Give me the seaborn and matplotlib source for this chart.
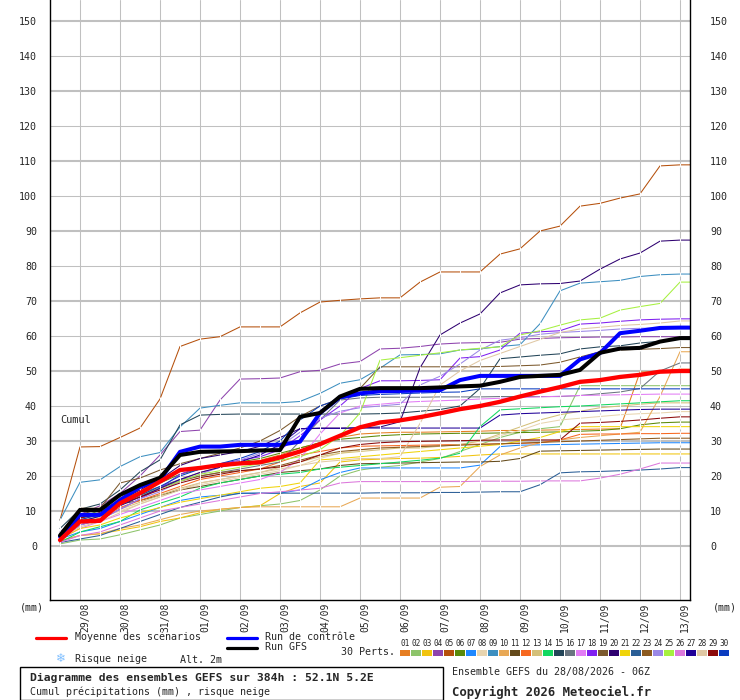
import matplotlib
matplotlib.use('Agg')
import matplotlib.pyplot as plt
from matplotlib.lines import Line2D
from matplotlib.patches import Rectangle
import seaborn as sns
import pandas as pd

# forecast hours of the points (run of 28/08 06Z)
hours = [6, 18, 30, 42, 54, 66, 78, 90, 102, 114, 126, 138, 150, 162, 174, 186, 198,
         210, 222, 234, 246, 258, 270, 282, 294, 306, 318, 330, 342, 354, 366, 378, 384]
day_hours = [18, 42, 66, 90, 114, 138, 162, 186, 210, 234, 258, 282, 306, 330, 354, 378]
date_labels = ['29/08', '30/08', '31/08', '01/09', '02/09', '03/09', '04/09', '05/09',
               '06/09', '07/09', '08/09', '09/09', '10/09', '11/09', '12/09', '13/09']
y_ticks = [0, 10, 20, 30, 40, 50, 60, 70, 80, 90, 100, 110, 120, 130, 140, 150]

mean_run = [1.7, 7.0, 7.2, 12.2, 15.1, 18.4, 21.7, 22.3, 23.1, 23.6, 23.9, 25.3, 27.0, 29.1, 31.5, 33.9, 35.3,
            35.9, 36.8, 37.9, 39.1, 40.0, 41.2, 42.7, 44.1, 45.4, 46.9, 47.4, 48.3, 48.9, 49.8, 50.0, 50.0]
control_run = [2.7, 8.9, 8.9, 13.1, 16.9, 18.9, 26.9, 28.4, 28.4, 28.9, 28.9, 28.9, 29.8, 38.0, 42.5, 43.6, 44.2,
               44.3, 44.4, 44.5, 47.4, 48.6, 48.6, 48.6, 48.6, 48.6, 53.3, 55.1, 60.8, 61.5, 62.3, 62.4, 62.4]
gfs_run = [3.0, 10.3, 10.3, 14.6, 17.4, 19.5, 26.0, 26.9, 27.0, 27.1, 27.3, 27.4, 36.9, 38.0, 42.7, 44.9, 45.1,
           45.1, 45.1, 45.3, 45.6, 45.8, 46.9, 48.3, 48.6, 48.9, 50.3, 55.2, 56.4, 56.6, 58.4, 59.4, 59.4]

p01 = [3.0, 7.5, 9.0, 12.0, 14.0, 16.5, 19.0, 21.0, 22.5, 23.5, 24.5, 26.0, 28.0, 29.5, 31.0, 32.0, 32.3,
       32.5, 32.5, 32.6, 32.7, 32.8, 33.0, 33.0, 33.1, 33.2, 33.3, 33.4, 33.5, 49.7, 49.8, 50.5, 50.5]
p02 = [0.6, 1.7, 2.0, 3.2, 4.6, 6.0, 8.0, 9.0, 10.0, 11.0, 11.5, 12.0, 13.0, 16.0, 20.0, 21.7, 22.5,
       23.0, 24.0, 25.0, 27.0, 29.0, 31.0, 32.5, 33.5, 34.1, 45.8, 45.8, 45.8, 45.8, 45.8, 45.8, 45.8]
p03 = [1.5, 3.0, 3.5, 4.5, 5.5, 7.0, 8.0, 9.5, 10.5, 11.0, 11.5, 15.0, 17.0, 18.0, 24.0, 24.6, 24.8,
       25.0, 25.1, 25.3, 25.6, 26.0, 26.3, 26.3, 26.3, 26.3, 26.3, 26.3, 26.3, 26.3, 26.3, 26.3, 26.3]
p04 = [4.0, 9.0, 11.5, 15.0, 20.0, 26.0, 32.7, 33.1, 41.7, 47.7, 47.8, 48.0, 49.8, 50.2, 52.0, 52.7, 56.3,
       56.5, 57.0, 57.7, 58.0, 58.1, 58.2, 59.1, 59.3, 59.5, 59.6, 59.7, 59.7, 59.8, 59.8, 59.8, 59.8]
p05 = [7.4, 28.3, 28.4, 31.0, 33.7, 42.0, 57.0, 59.1, 59.8, 62.6, 62.6, 62.6, 66.6, 69.7, 70.2, 70.6, 70.9,
       70.9, 75.4, 78.3, 78.3, 78.3, 83.4, 84.9, 90.0, 91.4, 97.1, 97.9, 99.4, 100.6, 108.6, 108.9, 108.9]
p06 = [3.5, 8.5, 10.0, 13.0, 15.5, 18.0, 20.5, 22.0, 23.0, 24.0, 25.0, 26.5, 28.0, 29.5, 30.5, 31.0, 31.5,
       31.8, 32.0, 32.1, 32.2, 32.2, 32.3, 32.4, 32.5, 32.6, 32.8, 33.0, 33.5, 34.6, 35.2, 35.4, 35.4]
p07 = [2.0, 4.0, 5.0, 7.0, 9.0, 11.0, 13.0, 14.0, 14.5, 15.0, 15.1, 15.1, 16.0, 18.9, 21.0, 22.3, 22.3,
       22.3, 22.3, 22.3, 22.3, 23.1, 28.4, 28.8, 28.9, 29.0, 29.1, 29.2, 29.3, 29.4, 29.5, 29.5, 29.5]
p08 = [2.5, 6.5, 8.0, 10.0, 12.0, 14.0, 16.0, 17.5, 18.5, 19.5, 20.5, 21.5, 23.0, 25.0, 26.5, 27.5, 28.0,
       28.3, 28.5, 28.7, 29.0, 30.0, 31.5, 33.0, 35.0, 36.0, 36.5, 37.0, 37.5, 37.8, 38.0, 38.4, 38.4]
p09 = [7.4, 18.2, 18.9, 22.7, 25.5, 26.7, 34.0, 39.4, 40.2, 40.9, 40.9, 40.9, 41.3, 43.6, 46.5, 47.5, 50.8,
       54.6, 54.7, 54.9, 56.0, 56.3, 57.0, 57.5, 63.5, 72.9, 75.1, 75.5, 75.9, 77.0, 77.5, 77.7, 77.7]
p10 = [1.5, 3.0, 3.5, 5.0, 6.0, 7.5, 9.0, 10.0, 10.5, 11.0, 11.2, 11.2, 11.2, 11.2, 11.2, 13.7, 13.7,
       13.7, 13.7, 16.8, 17.0, 22.7, 26.0, 28.0, 29.5, 30.3, 31.0, 31.5, 32.0, 32.5, 42.7, 55.5, 55.5]
p11 = [3.0, 9.0, 10.5, 12.0, 13.0, 14.5, 16.0, 17.0, 18.0, 19.0, 20.0, 21.0, 21.5, 22.0, 23.0, 23.5, 23.6,
       23.7, 23.8, 23.9, 24.0, 24.0, 24.2, 25.0, 27.1, 27.2, 27.3, 27.4, 27.5, 27.6, 27.7, 27.7, 27.7]
p12 = [2.0, 6.0, 8.0, 11.0, 13.0, 15.0, 17.0, 19.0, 20.0, 21.0, 22.0, 24.0, 26.0, 27.0, 28.0, 28.5, 28.6,
       28.7, 28.8, 28.9, 29.0, 29.1, 29.2, 29.3, 29.5, 30.3, 31.9, 32.0, 32.0, 32.1, 32.1, 32.2, 32.2]
p13 = [2.5, 7.0, 8.5, 10.5, 12.5, 14.5, 16.5, 18.0, 19.0, 20.0, 21.0, 22.5, 24.0, 25.5, 26.5, 27.0, 27.5,
       28.0, 28.0, 28.5, 29.0, 30.0, 32.0, 34.0, 36.0, 37.5, 38.5, 39.5, 40.0, 40.5, 40.9, 40.9, 40.9]
p14 = [1.0, 4.0, 5.5, 7.0, 10.3, 12.2, 14.0, 16.5, 18.0, 19.0, 20.0, 20.5, 21.0, 22.0, 22.5, 23.0, 23.5,
       24.0, 24.5, 25.1, 26.5, 34.1, 38.9, 39.2, 39.5, 39.8, 40.0, 40.3, 40.6, 40.9, 41.2, 41.5, 41.5]
p15 = [5.0, 10.5, 12.0, 16.0, 21.2, 24.6, 34.6, 37.4, 37.6, 37.7, 37.7, 37.7, 37.7, 37.7, 37.7, 37.7, 37.8,
       38.0, 38.5, 39.0, 40.0, 45.0, 53.5, 54.0, 54.5, 54.9, 56.3, 56.9, 57.2, 58.0, 58.5, 59.4, 59.4]
p16 = [2.0, 8.0, 9.0, 12.0, 15.0, 17.0, 19.0, 20.0, 21.0, 22.0, 23.0, 24.0, 30.0, 36.0, 41.7, 42.3, 42.5,
       42.5, 42.5, 42.6, 42.6, 42.6, 42.7, 42.7, 42.7, 42.7, 43.0, 43.5, 44.0, 45.0, 50.0, 52.3, 52.3]
p17 = [2.0, 5.0, 7.0, 9.0, 11.0, 13.0, 15.0, 16.0, 17.0, 18.0, 19.0, 21.0, 25.0, 32.0, 38.0, 40.0, 40.5,
       41.0, 41.3, 41.5, 41.7, 42.0, 42.2, 42.4, 42.6, 42.8, 43.0, 43.1, 43.2, 43.3, 43.4, 43.4, 43.4]
p18 = [2.0, 6.0, 7.5, 10.5, 13.5, 16.5, 20.5, 22.5, 23.5, 24.5, 25.5, 27.5, 31.5, 36.0, 40.0, 45.0, 47.2,
       47.2, 47.3, 47.5, 53.7, 54.1, 56.0, 60.8, 61.2, 61.5, 63.4, 63.7, 64.2, 64.6, 64.8, 64.9, 64.9]
p19 = [3.5, 10.8, 10.8, 18.0, 19.4, 21.7, 23.5, 25.0, 26.5, 28.0, 30.0, 33.0, 37.0, 40.0, 42.0, 45.0, 51.2,
       51.2, 51.2, 51.2, 51.2, 51.2, 51.3, 51.5, 51.7, 52.5, 54.0, 55.5, 56.0, 56.2, 56.4, 56.7, 56.7]
p20 = [3.0, 8.0, 9.5, 13.0, 16.0, 19.0, 23.0, 25.0, 26.0, 27.0, 28.5, 31.0, 33.5, 33.7, 33.7, 33.8, 34.0,
       35.5, 50.9, 60.3, 63.7, 66.3, 72.3, 74.6, 74.9, 75.0, 75.7, 79.1, 82.0, 83.7, 87.1, 87.4, 87.4]
p21 = [2.0, 5.0, 6.0, 8.0, 9.5, 11.0, 12.5, 13.5, 14.5, 15.5, 16.5, 17.0, 18.0, 24.6, 25.0, 25.5, 26.0,
       26.5, 27.0, 27.5, 28.0, 28.5, 29.0, 30.0, 31.0, 32.7, 34.1, 34.1, 34.1, 34.1, 34.1, 34.1, 34.1]
p22 = [1.0, 2.0, 3.0, 5.0, 7.0, 9.0, 11.0, 12.5, 14.0, 15.1, 15.1, 15.1, 15.1, 15.1, 15.1, 15.1, 15.2,
       15.2, 15.2, 15.3, 15.3, 15.4, 15.5, 15.5, 17.5, 20.9, 21.2, 21.3, 21.5, 21.7, 22.0, 22.4, 22.4]
p23 = [3.0, 8.0, 9.5, 12.5, 14.5, 16.5, 18.5, 20.0, 21.0, 21.5, 22.0, 23.0, 24.5, 26.0, 27.0, 27.5, 28.0,
       28.2, 28.4, 28.6, 28.8, 29.0, 29.2, 29.4, 29.6, 29.8, 30.0, 30.2, 30.4, 30.6, 30.8, 30.8, 30.8]
p24 = [2.0, 6.0, 7.5, 10.5, 13.5, 15.5, 18.5, 20.5, 22.5, 24.5, 26.5, 28.5, 32.5, 36.5, 38.5, 39.5, 40.0,
       40.5, 46.0, 48.5, 52.0, 56.0, 58.8, 59.5, 60.5, 61.0, 61.3, 61.6, 62.0, 62.2, 62.3, 62.3, 62.3]
p25 = [3.0, 7.0, 8.5, 11.5, 14.5, 16.5, 18.5, 20.5, 21.5, 22.5, 23.5, 24.5, 25.5, 27.5, 31.5, 38.0, 53.1,
       53.8, 54.5, 55.2, 56.0, 56.5, 56.9, 60.3, 61.5, 63.1, 64.6, 65.1, 67.4, 68.4, 69.3, 75.4, 75.4]
p26 = [1.0, 3.0, 4.0, 6.0, 8.0, 10.0, 11.0, 12.0, 13.0, 14.0, 15.0, 15.5, 16.0, 16.5, 18.0, 18.4, 18.4,
       18.4, 18.4, 18.4, 18.4, 18.5, 18.5, 18.5, 18.6, 18.6, 18.6, 19.4, 20.5, 22.0, 23.7, 23.7, 23.7]
p27 = [2.5, 7.0, 8.5, 11.5, 14.0, 16.5, 19.0, 21.0, 22.5, 24.0, 26.0, 29.0, 33.5, 33.6, 33.6, 33.7, 33.7,
       33.7, 33.7, 33.7, 33.7, 33.7, 37.4, 37.8, 38.0, 38.2, 38.4, 38.6, 38.8, 39.0, 39.1, 39.1, 39.1]
p28 = [2.0, 5.5, 7.0, 9.5, 12.0, 14.0, 16.0, 18.0, 19.0, 20.0, 21.0, 22.0, 23.0, 24.0, 24.5, 25.0, 25.0,
       25.5, 35.0, 46.0, 50.0, 53.0, 55.0, 57.0, 59.0, 61.0, 62.0, 62.5, 63.0, 63.3, 63.7, 64.3, 64.3]
p29 = [3.0, 8.0, 9.5, 12.0, 14.0, 16.0, 18.0, 19.5, 20.5, 21.5, 22.0, 22.6, 24.0, 26.0, 28.0, 29.0, 29.5,
       29.8, 29.9, 30.0, 30.1, 30.2, 30.3, 30.3, 30.3, 30.3, 35.1, 35.3, 35.6, 36.0, 36.5, 36.9, 36.9]
p30 = [2.5, 7.5, 9.0, 12.0, 14.5, 17.0, 20.0, 22.0, 23.5, 25.0, 27.0, 30.0, 36.0, 40.0, 42.0, 43.0, 43.3,
       43.5, 43.7, 43.9, 44.0, 44.9, 44.9, 44.9, 44.9, 44.9, 44.9, 44.9, 44.9, 44.9, 44.9, 44.9, 44.9]

pert_colors = ['#e67e22', '#8dc46a', '#f1c40f', '#8e44ad', '#b5500c', '#5a8a0a', '#1e88ff', '#e8d5b0',
               '#3d8fc0', '#e8a855', '#644a1a', '#f76820', '#d4c07a', '#12d860', '#234558', '#6a7580',
               '#e27cf5', '#8020f0', '#7c5a2e', '#2e0070', '#f0d40a', '#2a5e96', '#8c5a20', '#9b88e6',
               '#a6f040', '#dc78dc', '#200098', '#e0c8a4', '#8c0a0a', '#0a3cc0']

perts = [p01, p02, p03, p04, p05, p06, p07, p08, p09, p10, p11, p12, p13, p14, p15,
         p16, p17, p18, p19, p20, p21, p22, p23, p24, p25, p26, p27, p28, p29, p30]
names = ['%02d' % (i + 1) for i in range(30)]
df = pd.concat([pd.DataFrame({'h': hours, 'mm': p, 'run': n}) for p, n in zip(perts, names)])

sns.set_theme(style='white')
plt.rcParams['font.family'] = ['DejaVu Sans Mono', 'DejaVu Sans']

W, H = 740, 700
def px(x, y):
    return x / W, 1 - y / H

fig = plt.figure(figsize=(7.4, 7.0), dpi=100)
fig.patch.set_facecolor('white')
ax = fig.add_axes([50 / W, 100 / H, 640 / W, 600 / H])
ax.set_facecolor('white')

# grid
for v in y_ticks:
    ax.axhline(v, color='#c0c0c0', lw=1.5 if (v % 20 == 10 or v == 0) else 0.75, zorder=0)
for h in day_hours:
    ax.axvline(h, color='#c0c0c0', lw=0.75, zorder=0)

sns.lineplot(data=df, x='h', y='mm', hue='run', palette=pert_colors, estimator=None, sort=False,
             lw=0.75, marker='|', markersize=3, markeredgewidth=0.7, legend=False, ax=ax)
sns.lineplot(x=hours, y=control_run, color='#0000ff', lw=2.9, ax=ax)
sns.lineplot(x=hours, y=gfs_run, color='black', lw=2.9, ax=ax)
sns.lineplot(x=hours, y=mean_run, color='#ff0000', lw=3.1, ax=ax)

ax.set_xlim(0, 384)
ax.set_ylim(-15.43, 156)
ax.set_xlabel('')
ax.set_ylabel('')

ax.set_xticks(day_hours, labels=date_labels)
ax.tick_params(axis='x', length=0, pad=2, labelsize=7)
for t in ax.get_xticklabels():
    t.set_rotation(90)
    t.set_ha('left')
ax.set_yticks(y_ticks)
ax.tick_params(axis='y', length=0, pad=9.4, labelsize=7.2)
sec = ax.secondary_yaxis('right')
sec.set_yticks(y_ticks)
sec.tick_params(length=0, pad=14.4, labelsize=7.2)
sec.spines['right'].set_visible(False)

ax.spines['top'].set_visible(False)
for s in ['left', 'right', 'bottom']:
    ax.spines[s].set_color('black')
    ax.spines[s].set_linewidth(1.0)

ax.text(10 / 640, 0.3, 'Cumul', transform=ax.transAxes, fontsize=7.4, va='center', ha='left')

fs = 7.2
fig.text(*px(20, 607), '(mm)', fontsize=fs, va='center', ha='left')
fig.text(*px(713, 607), '(mm)', fontsize=fs, va='center', ha='left')

# legend
fig.add_artist(Line2D([36 / W, 66 / W], [1 - 637.5 / H] * 2, color='#ff0000', lw=2.3))
fig.text(*px(75, 637), 'Moyenne des scénarios', fontsize=fs, va='center', ha='left')
fig.add_artist(Line2D([227 / W, 257 / W], [1 - 637.5 / H] * 2, color='#0000ff', lw=2.3))
fig.text(*px(265, 637), 'Run de contrôle', fontsize=fs, va='center', ha='left')
fig.add_artist(Line2D([227 / W, 257 / W], [1 - 647.5 / H] * 2, color='black', lw=2.3))
fig.text(*px(265, 647), 'Run GFS', fontsize=fs, va='center', ha='left')
fig.text(*px(61, 658), '\u2744', fontsize=8.5, color='#7fbfff', va='center', ha='center',
         family=['DejaVu Sans'])
fig.text(*px(75, 659), 'Risque neige', fontsize=fs, va='center', ha='left')
fig.text(*px(180, 660), 'Alt. 2m', fontsize=fs, va='center', ha='left')
fig.text(*px(341, 652), '30 Perts.', fontsize=fs, va='center', ha='left')
for i, c in enumerate(pert_colors):
    x0 = 400 + 11 * i
    fig.add_artist(Rectangle((x0 / W, 1 - 656 / H), 10 / W, 6 / H, transform=fig.transFigure,
                             facecolor=c, edgecolor='none'))
    fig.text(*px(x0 + 5, 643), names[i], fontsize=5.6, va='center', ha='center')

# title box
fig.add_artist(Rectangle((20 / W, 0.0), 423 / W, 33 / H, transform=fig.transFigure,
                         facecolor='none', edgecolor='black', lw=1.0))
fig.text(*px(30, 678), 'Diagramme des ensembles GEFS sur 384h : 52.1N 5.2E', fontsize=8.2,
         fontweight='bold', va='center', ha='left')
fig.text(*px(30, 692), 'Cumul précipitations (mm) , risque neige', fontsize=fs, va='center', ha='left')
fig.text(*px(452, 672), 'Ensemble GEFS du 28/08/2026 - 06Z', fontsize=fs, va='center', ha='left')
fig.text(*px(452, 692), 'Copyright 2026 Meteociel.fr', fontsize=8.8, fontweight='bold',
         va='center', ha='left')

fig.savefig('out.png', dpi=100, facecolor='white')
